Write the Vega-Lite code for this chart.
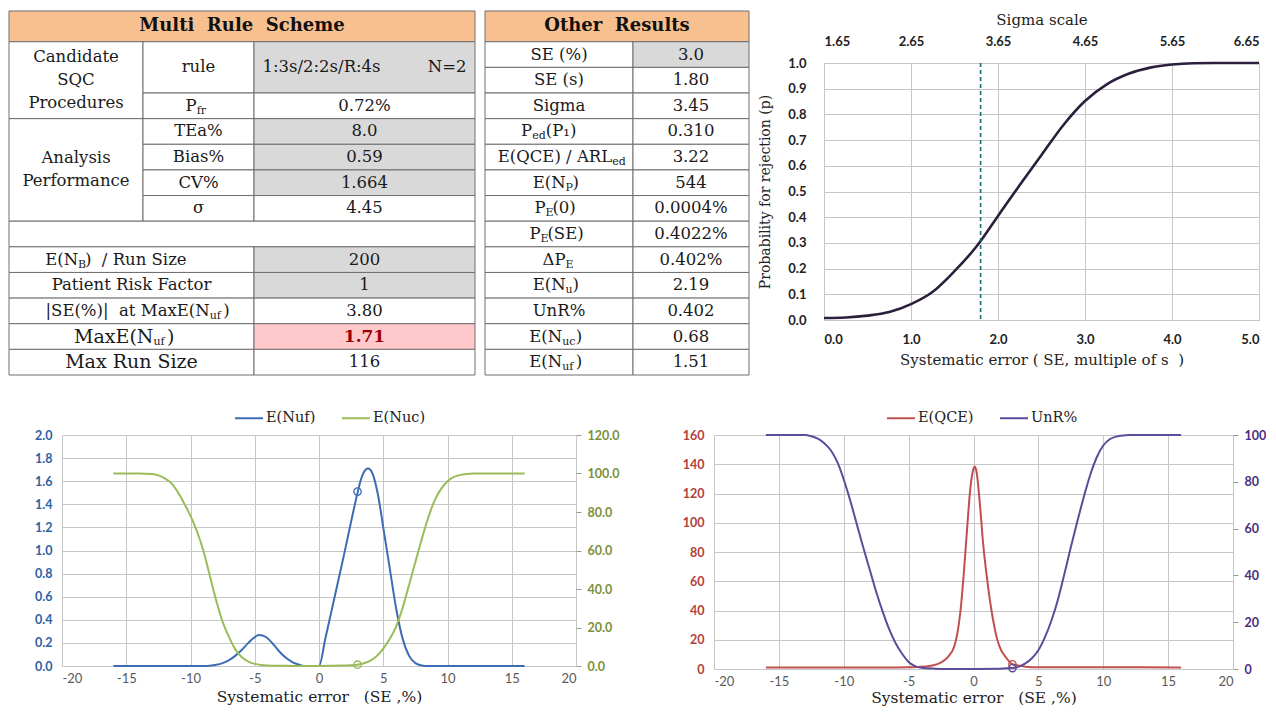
{
  "$schema": "https://vega.github.io/schema/vega-lite/v6.json",
  "padding": {"left": 8, "top": 10, "right": 0, "bottom": 0},
  "background": "white",
  "config": {"view": {"stroke": null}, "font": "DejaVu Serif", "axis": {"titleFontWeight": "normal", "labelOverlap": false}},
  "datasets": {
    "t1": [
      {"c0": 0, "c1": 466, "r0": 0, "r1": 1.2, "role": "head", "txt": "Multi\u00a0\u00a0Rule\u00a0\u00a0Scheme"},
      {"c0": 0, "c1": 134, "r0": 1.2, "r1": 4.2, "role": "label", "txt": ["Candidate", "SQC", "Procedures"]},
      {"c0": 134, "c1": 245, "r0": 1.2, "r1": 3.2, "role": "label", "txt": "rule"},
      {"c0": 245, "c1": 466, "r0": 1.2, "r1": 3.2, "role": "rule", "txt": "1:3s/2:2s/R:4s\u00a0\u00a0\u00a0\u00a0\u00a0\u00a0\u00a0\u00a0\u00a0N=2"},
      {"c0": 134, "c1": 245, "r0": 3.2, "r1": 4.2, "role": "label", "txt": "P", "sub": "fr"},
      {"c0": 245, "c1": 466, "r0": 3.2, "r1": 4.2, "role": "value", "txt": "0.72%"},
      {"c0": 0, "c1": 134, "r0": 4.2, "r1": 8.2, "role": "label", "txt": ["Analysis", "Performance"]},
      {"c0": 134, "c1": 245, "r0": 4.2, "r1": 5.2, "role": "label", "txt": "TEa%"},
      {"c0": 245, "c1": 466, "r0": 4.2, "r1": 5.2, "role": "input", "txt": "8.0"},
      {"c0": 134, "c1": 245, "r0": 5.2, "r1": 6.2, "role": "label", "txt": "Bias%"},
      {"c0": 245, "c1": 466, "r0": 5.2, "r1": 6.2, "role": "input", "txt": "0.59"},
      {"c0": 134, "c1": 245, "r0": 6.2, "r1": 7.2, "role": "label", "txt": "CV%"},
      {"c0": 245, "c1": 466, "r0": 6.2, "r1": 7.2, "role": "input", "txt": "1.664"},
      {"c0": 134, "c1": 245, "r0": 7.2, "r1": 8.2, "role": "label", "txt": "σ"},
      {"c0": 245, "c1": 466, "r0": 7.2, "r1": 8.2, "role": "value", "txt": "4.45"},
      {"c0": 0, "c1": 466, "r0": 8.2, "r1": 9.2, "role": "blank", "txt": ""},
      {"c0": 0, "c1": 245, "r0": 9.2, "r1": 10.2, "role": "label", "txt": "E(N", "sub": "B", "tail": ")\u00a0 / Run Size"},
      {"c0": 245, "c1": 466, "r0": 9.2, "r1": 10.2, "role": "input", "txt": "200"},
      {"c0": 0, "c1": 245, "r0": 10.2, "r1": 11.2, "role": "label", "txt": "Patient Risk Factor"},
      {"c0": 245, "c1": 466, "r0": 10.2, "r1": 11.2, "role": "input", "txt": "1"},
      {"c0": 0, "c1": 245, "r0": 11.2, "r1": 12.2, "role": "label", "txt": "|SE(%)|\u00a0 at MaxE(N", "sub": "uf", "tail": ")"},
      {"c0": 245, "c1": 466, "r0": 11.2, "r1": 12.2, "role": "value", "txt": "3.80"},
      {"c0": 0, "c1": 245, "r0": 12.2, "r1": 13.2, "role": "emph", "txt": "MaxE(N", "sub": "uf", "tail": ")"},
      {"c0": 245, "c1": 466, "r0": 12.2, "r1": 13.2, "role": "alert", "txt": "1.71"},
      {"c0": 0, "c1": 245, "r0": 13.2, "r1": 14.2, "role": "emph", "txt": "Max Run Size"},
      {"c0": 245, "c1": 466, "r0": 13.2, "r1": 14.2, "role": "value", "txt": "116"}
    ],
    "t2": [
      {"c0": 0, "c1": 264, "r0": 0, "r1": 1.2, "role": "head", "txt": "Other\u00a0\u00a0Results"},
      {"c0": 0, "c1": 148, "r0": 1.2, "r1": 2.2, "role": "label", "txt": "SE (%)"},
      {"c0": 148, "c1": 264, "r0": 1.2, "r1": 2.2, "role": "input", "txt": "3.0"},
      {"c0": 0, "c1": 148, "r0": 2.2, "r1": 3.2, "role": "label", "txt": "SE (s)"},
      {"c0": 148, "c1": 264, "r0": 2.2, "r1": 3.2, "role": "value", "txt": "1.80"},
      {"c0": 0, "c1": 148, "r0": 3.2, "r1": 4.2, "role": "label", "txt": "Sigma"},
      {"c0": 148, "c1": 264, "r0": 3.2, "r1": 4.2, "role": "value", "txt": "3.45"},
      {"c0": 0, "c1": 148, "r0": 4.2, "r1": 5.2, "role": "label", "txt": "P", "sub": "ed", "tail": "\u00a0(P₁)"},
      {"c0": 148, "c1": 264, "r0": 4.2, "r1": 5.2, "role": "value", "txt": "0.310"},
      {"c0": 0, "c1": 148, "r0": 5.2, "r1": 6.2, "role": "label", "txt": "E(QCE) / ARL", "sub": "ed"},
      {"c0": 148, "c1": 264, "r0": 5.2, "r1": 6.2, "role": "value", "txt": "3.22"},
      {"c0": 0, "c1": 148, "r0": 6.2, "r1": 7.2, "role": "label", "txt": "E(N", "sub": "P", "tail": ")"},
      {"c0": 148, "c1": 264, "r0": 6.2, "r1": 7.2, "role": "value", "txt": "544"},
      {"c0": 0, "c1": 148, "r0": 7.2, "r1": 8.2, "role": "label", "txt": "P", "sub": "E", "tail": "(0)"},
      {"c0": 148, "c1": 264, "r0": 7.2, "r1": 8.2, "role": "value", "txt": "0.0004%"},
      {"c0": 0, "c1": 148, "r0": 8.2, "r1": 9.2, "role": "label", "txt": "P", "sub": "E", "tail": "(SE)"},
      {"c0": 148, "c1": 264, "r0": 8.2, "r1": 9.2, "role": "value", "txt": "0.4022%"},
      {"c0": 0, "c1": 148, "r0": 9.2, "r1": 10.2, "role": "label", "txt": "ΔP", "sub": "E"},
      {"c0": 148, "c1": 264, "r0": 9.2, "r1": 10.2, "role": "value", "txt": "0.402%"},
      {"c0": 0, "c1": 148, "r0": 10.2, "r1": 11.2, "role": "label", "txt": "E(N", "sub": "u", "tail": ")"},
      {"c0": 148, "c1": 264, "r0": 10.2, "r1": 11.2, "role": "value", "txt": "2.19"},
      {"c0": 0, "c1": 148, "r0": 11.2, "r1": 12.2, "role": "label", "txt": "UnR%"},
      {"c0": 148, "c1": 264, "r0": 11.2, "r1": 12.2, "role": "value", "txt": "0.402"},
      {"c0": 0, "c1": 148, "r0": 12.2, "r1": 13.2, "role": "label", "txt": "E(N", "sub": "uc", "tail": ")"},
      {"c0": 148, "c1": 264, "r0": 12.2, "r1": 13.2, "role": "value", "txt": "0.68"},
      {"c0": 0, "c1": 148, "r0": 13.2, "r1": 14.2, "role": "label", "txt": "E(N", "sub": "uf", "tail": ")"},
      {"c0": 148, "c1": 264, "r0": 13.2, "r1": 14.2, "role": "value", "txt": "1.51"}
    ],
    "pc": [
      {"se": 0, "p": 0.008}, {"se": 0.25, "p": 0.01}, {"se": 0.5, "p": 0.017}, {"se": 0.75, "p": 0.031},
      {"se": 1.0, "p": 0.062}, {"se": 1.25, "p": 0.11}, {"se": 1.5, "p": 0.19}, {"se": 1.75, "p": 0.285},
      {"se": 2.0, "p": 0.405}, {"se": 2.25, "p": 0.525}, {"se": 2.5, "p": 0.642}, {"se": 2.75, "p": 0.758},
      {"se": 3.0, "p": 0.852}, {"se": 3.25, "p": 0.917}, {"se": 3.5, "p": 0.958}, {"se": 3.75, "p": 0.982},
      {"se": 4.0, "p": 0.994}, {"se": 4.25, "p": 0.999}, {"se": 4.5, "p": 1.0}, {"se": 5.0, "p": 1.0}
    ],
    "sem": [{"se": 1.8}],
    "c4": [
      {"se": -16, "series": "E(Nuf)", "v": 0}, {"se": -12, "series": "E(Nuf)", "v": 0}, {"se": -9, "series": "E(Nuf)", "v": 0},
      {"se": -8.5, "series": "E(Nuf)", "v": 0.003}, {"se": -8, "series": "E(Nuf)", "v": 0.01}, {"se": -7.5, "series": "E(Nuf)", "v": 0.025},
      {"se": -7, "series": "E(Nuf)", "v": 0.05}, {"se": -6.5, "series": "E(Nuf)", "v": 0.09}, {"se": -6, "series": "E(Nuf)", "v": 0.14},
      {"se": -5.5, "series": "E(Nuf)", "v": 0.2}, {"se": -5, "series": "E(Nuf)", "v": 0.25}, {"se": -4.7, "series": "E(Nuf)", "v": 0.268},
      {"se": -4.4, "series": "E(Nuf)", "v": 0.265}, {"se": -4, "series": "E(Nuf)", "v": 0.24}, {"se": -3.5, "series": "E(Nuf)", "v": 0.18},
      {"se": -3, "series": "E(Nuf)", "v": 0.115}, {"se": -2.5, "series": "E(Nuf)", "v": 0.065}, {"se": -2, "series": "E(Nuf)", "v": 0.03},
      {"se": -1.5, "series": "E(Nuf)", "v": 0.01}, {"se": -1.2, "series": "E(Nuf)", "v": 0}, {"se": 0, "series": "E(Nuf)", "v": 0},
      {"se": 0.5, "series": "E(Nuf)", "v": 0.24}, {"se": 1, "series": "E(Nuf)", "v": 0.49}, {"se": 1.5, "series": "E(Nuf)", "v": 0.74},
      {"se": 2, "series": "E(Nuf)", "v": 0.99}, {"se": 2.5, "series": "E(Nuf)", "v": 1.25}, {"se": 3, "series": "E(Nuf)", "v": 1.5},
      {"se": 3.25, "series": "E(Nuf)", "v": 1.61}, {"se": 3.5, "series": "E(Nuf)", "v": 1.68}, {"se": 3.8, "series": "E(Nuf)", "v": 1.71},
      {"se": 4, "series": "E(Nuf)", "v": 1.7}, {"se": 4.25, "series": "E(Nuf)", "v": 1.64}, {"se": 4.5, "series": "E(Nuf)", "v": 1.53},
      {"se": 4.75, "series": "E(Nuf)", "v": 1.38}, {"se": 5, "series": "E(Nuf)", "v": 1.2}, {"se": 5.5, "series": "E(Nuf)", "v": 0.85},
      {"se": 6, "series": "E(Nuf)", "v": 0.5}, {"se": 6.5, "series": "E(Nuf)", "v": 0.24}, {"se": 7, "series": "E(Nuf)", "v": 0.09},
      {"se": 7.5, "series": "E(Nuf)", "v": 0.025}, {"se": 8, "series": "E(Nuf)", "v": 0.005}, {"se": 8.5, "series": "E(Nuf)", "v": 0},
      {"se": 12, "series": "E(Nuf)", "v": 0}, {"se": 16, "series": "E(Nuf)", "v": 0},
      {"se": -16, "series": "E(Nuc)", "v": 100}, {"se": -14, "series": "E(Nuc)", "v": 100}, {"se": -13, "series": "E(Nuc)", "v": 99.7},
      {"se": -12.5, "series": "E(Nuc)", "v": 99}, {"se": -12, "series": "E(Nuc)", "v": 97.5}, {"se": -11.5, "series": "E(Nuc)", "v": 95},
      {"se": -11, "series": "E(Nuc)", "v": 90.5}, {"se": -10.5, "series": "E(Nuc)", "v": 84.5}, {"se": -10, "series": "E(Nuc)", "v": 78},
      {"se": -9.5, "series": "E(Nuc)", "v": 70}, {"se": -9, "series": "E(Nuc)", "v": 60}, {"se": -8.5, "series": "E(Nuc)", "v": 47},
      {"se": -8, "series": "E(Nuc)", "v": 34}, {"se": -7.5, "series": "E(Nuc)", "v": 23}, {"se": -7, "series": "E(Nuc)", "v": 15},
      {"se": -6.5, "series": "E(Nuc)", "v": 8.5}, {"se": -6, "series": "E(Nuc)", "v": 4.5}, {"se": -5.5, "series": "E(Nuc)", "v": 2.3},
      {"se": -5, "series": "E(Nuc)", "v": 1.1}, {"se": -4.5, "series": "E(Nuc)", "v": 0.5}, {"se": -4, "series": "E(Nuc)", "v": 0.25},
      {"se": -3, "series": "E(Nuc)", "v": 0.1}, {"se": -2, "series": "E(Nuc)", "v": 0.05}, {"se": 0, "series": "E(Nuc)", "v": 0.05},
      {"se": 2, "series": "E(Nuc)", "v": 0.2}, {"se": 3, "series": "E(Nuc)", "v": 0.68}, {"se": 3.5, "series": "E(Nuc)", "v": 1.4},
      {"se": 4, "series": "E(Nuc)", "v": 2.8}, {"se": 4.5, "series": "E(Nuc)", "v": 5.2}, {"se": 5, "series": "E(Nuc)", "v": 9},
      {"se": 5.5, "series": "E(Nuc)", "v": 14}, {"se": 6, "series": "E(Nuc)", "v": 20.5}, {"se": 6.5, "series": "E(Nuc)", "v": 30},
      {"se": 7, "series": "E(Nuc)", "v": 42}, {"se": 7.5, "series": "E(Nuc)", "v": 54}, {"se": 8, "series": "E(Nuc)", "v": 66},
      {"se": 8.5, "series": "E(Nuc)", "v": 77}, {"se": 9, "series": "E(Nuc)", "v": 86}, {"se": 9.5, "series": "E(Nuc)", "v": 92},
      {"se": 10, "series": "E(Nuc)", "v": 96}, {"se": 10.5, "series": "E(Nuc)", "v": 98.2}, {"se": 11, "series": "E(Nuc)", "v": 99.3},
      {"se": 11.5, "series": "E(Nuc)", "v": 99.8}, {"se": 12, "series": "E(Nuc)", "v": 100}, {"se": 16, "series": "E(Nuc)", "v": 100}
    ],
    "c4m": [{"se": 3, "series": "E(Nuf)", "v": 1.51}, {"se": 3, "series": "E(Nuc)", "v": 0.68}],
    "c5": [
      {"se": -16, "series": "E(QCE)", "v": 1.1}, {"se": -6, "series": "E(QCE)", "v": 1.1}, {"se": -5, "series": "E(QCE)", "v": 1.2},
      {"se": -4, "series": "E(QCE)", "v": 1.5}, {"se": -3, "series": "E(QCE)", "v": 2.7}, {"se": -2.5, "series": "E(QCE)", "v": 4.5},
      {"se": -2, "series": "E(QCE)", "v": 8}, {"se": -1.5, "series": "E(QCE)", "v": 15}, {"se": -1.25, "series": "E(QCE)", "v": 24},
      {"se": -1, "series": "E(QCE)", "v": 40}, {"se": -0.75, "series": "E(QCE)", "v": 65}, {"se": -0.5, "series": "E(QCE)", "v": 95},
      {"se": -0.25, "series": "E(QCE)", "v": 123}, {"se": 0, "series": "E(QCE)", "v": 137}, {"se": 0.1, "series": "E(QCE)", "v": 138.5},
      {"se": 0.25, "series": "E(QCE)", "v": 134}, {"se": 0.5, "series": "E(QCE)", "v": 112}, {"se": 0.75, "series": "E(QCE)", "v": 85},
      {"se": 1, "series": "E(QCE)", "v": 65}, {"se": 1.25, "series": "E(QCE)", "v": 48}, {"se": 1.5, "series": "E(QCE)", "v": 34},
      {"se": 1.75, "series": "E(QCE)", "v": 23}, {"se": 2, "series": "E(QCE)", "v": 15.5}, {"se": 2.5, "series": "E(QCE)", "v": 8},
      {"se": 3, "series": "E(QCE)", "v": 3.22}, {"se": 3.5, "series": "E(QCE)", "v": 2.3}, {"se": 4, "series": "E(QCE)", "v": 1.6},
      {"se": 5, "series": "E(QCE)", "v": 1.2}, {"se": 16, "series": "E(QCE)", "v": 1.1},
      {"se": -16, "series": "UnR%", "v": 100}, {"se": -13, "series": "UnR%", "v": 100}, {"se": -12.5, "series": "UnR%", "v": 99.5},
      {"se": -12, "series": "UnR%", "v": 98.5}, {"se": -11.5, "series": "UnR%", "v": 96.5}, {"se": -11, "series": "UnR%", "v": 93.5},
      {"se": -10.5, "series": "UnR%", "v": 88.5}, {"se": -10, "series": "UnR%", "v": 81}, {"se": -9.5, "series": "UnR%", "v": 72},
      {"se": -9, "series": "UnR%", "v": 62}, {"se": -8.5, "series": "UnR%", "v": 52}, {"se": -8, "series": "UnR%", "v": 42.5},
      {"se": -7.5, "series": "UnR%", "v": 33}, {"se": -7, "series": "UnR%", "v": 24.5}, {"se": -6.5, "series": "UnR%", "v": 17},
      {"se": -6, "series": "UnR%", "v": 11}, {"se": -5.5, "series": "UnR%", "v": 6.5}, {"se": -5, "series": "UnR%", "v": 3},
      {"se": -4.5, "series": "UnR%", "v": 1.2}, {"se": -4, "series": "UnR%", "v": 0.5}, {"se": -3, "series": "UnR%", "v": 0.15},
      {"se": -2, "series": "UnR%", "v": 0.05}, {"se": 0, "series": "UnR%", "v": 0.05}, {"se": 2, "series": "UnR%", "v": 0.15},
      {"se": 3, "series": "UnR%", "v": 0.402}, {"se": 3.5, "series": "UnR%", "v": 1}, {"se": 4, "series": "UnR%", "v": 2.4},
      {"se": 4.5, "series": "UnR%", "v": 4.6}, {"se": 5, "series": "UnR%", "v": 8}, {"se": 5.5, "series": "UnR%", "v": 13.5},
      {"se": 6, "series": "UnR%", "v": 20.6}, {"se": 6.5, "series": "UnR%", "v": 29.5}, {"se": 7, "series": "UnR%", "v": 40.5},
      {"se": 7.5, "series": "UnR%", "v": 52}, {"se": 8, "series": "UnR%", "v": 63}, {"se": 8.5, "series": "UnR%", "v": 73.5},
      {"se": 9, "series": "UnR%", "v": 83}, {"se": 9.5, "series": "UnR%", "v": 90.5}, {"se": 10, "series": "UnR%", "v": 95.5},
      {"se": 10.5, "series": "UnR%", "v": 98.2}, {"se": 11, "series": "UnR%", "v": 99.3}, {"se": 11.5, "series": "UnR%", "v": 99.8},
      {"se": 12, "series": "UnR%", "v": 100}, {"se": 16, "series": "UnR%", "v": 100}
    ],
    "c5m": [{"se": 3, "series": "E(QCE)", "v": 3.22}, {"se": 3, "series": "UnR%", "v": 0.402}]
  },
  "columns": 1,
  "align": "none",
  "spacing": 27,
  "resolve": {"scale": {"color": "independent"}},
  "concat": [
    {
      "columns": 3,
      "align": "none",
      "spacing": 8,
      "resolve": {"scale": {"color": "independent"}},
      "concat": [
        {
          "width": 413, "height": 312,
          "data": {"name": "t1"},
          "transform": [
            {"calculate": "(datum.c0 + datum.c1) / 2", "as": "cx"},
            {"calculate": "(datum.r0 + datum.r1) / 2", "as": "cy"},
            {"calculate": "isArray(datum.txt) ? datum.cy - (length(datum.txt) - 1) * 0.449 : datum.cy", "as": "ty"},
            {"calculate": "datum.role === 'emph' ? 11.5 : 10", "as": "cw"},
            {"calculate": "datum.sub ? length(datum.sub) * 6.8 : 0", "as": "sw"},
            {"calculate": "datum.cx + ((datum.sub ? length(datum.txt) : 0) * datum.cw - (datum.tail ? length(datum.tail) : 0) * datum.cw - datum.sw) / 2", "as": "ax"},
            {"calculate": "datum.ax + datum.sw", "as": "px"}
          ],
          "encoding": {
            "x": {"field": "cx", "type": "quantitative", "scale": {"domain": [53, 466], "nice": false, "zero": false}, "axis": null},
            "y": {"field": "ty", "type": "quantitative", "scale": {"domain": [2.029, 14.2], "nice": false, "zero": false, "reverse": true}, "axis": null}
          },
          "layer": [
            {"mark": {"type": "rect", "stroke": "#6e6e6e", "strokeWidth": 1},
             "encoding": {"x": {"field": "c0", "type": "quantitative"}, "x2": {"field": "c1"}, "y": {"field": "r0", "type": "quantitative"}, "y2": {"field": "r1"},
               "color": {"field": "role", "type": "nominal", "scale": {"domain": ["head", "label", "input", "value", "emph", "alert", "rule", "blank"], "range": ["#f9c08f", "#ffffff", "#d9d9d9", "#ffffff", "#ffffff", "#ffc9cc", "#d9d9d9", "#ffffff"]}, "legend": null}}},
            {"transform": [{"filter": "!datum.sub && indexof(['label','input','value','rule'], datum.role) >= 0"}],
             "mark": {"type": "text", "fontSize": 16.5, "baseline": "middle", "lineHeight": 23, "color": "#1a1a1a", "font": "DejaVu Serif"},
             "encoding": {"text": {"field": "txt", "type": "nominal"}}},
            {"transform": [{"filter": "!datum.sub && datum.role === 'emph'"}],
             "mark": {"type": "text", "fontSize": 19, "baseline": "middle", "color": "#1a1a1a", "font": "DejaVu Serif"},
             "encoding": {"text": {"field": "txt", "type": "nominal"}}},
            {"transform": [{"filter": "datum.role === 'head'"}],
             "mark": {"type": "text", "fontSize": 18, "fontWeight": "bold", "baseline": "middle", "color": "#111111", "font": "DejaVu Serif"},
             "encoding": {"text": {"field": "txt", "type": "nominal"}}},
            {"transform": [{"filter": "datum.role === 'alert'"}],
             "mark": {"type": "text", "fontSize": 17, "fontWeight": "bold", "baseline": "middle", "color": "#9c0006", "font": "DejaVu Serif"},
             "encoding": {"text": {"field": "txt", "type": "nominal"}}},
            {"transform": [{"filter": "datum.sub && datum.role !== 'emph'"}],
             "mark": {"type": "text", "fontSize": 16.5, "baseline": "middle", "align": "right", "color": "#1a1a1a", "font": "DejaVu Serif"},
             "encoding": {"x": {"field": "ax", "type": "quantitative"}, "text": {"field": "txt", "type": "nominal"}}},
            {"transform": [{"filter": "datum.sub && datum.role === 'emph'"}],
             "mark": {"type": "text", "fontSize": 19, "baseline": "middle", "align": "right", "color": "#1a1a1a", "font": "DejaVu Serif"},
             "encoding": {"x": {"field": "ax", "type": "quantitative"}, "text": {"field": "txt", "type": "nominal"}}},
            {"transform": [{"filter": "datum.sub"}],
             "mark": {"type": "text", "fontSize": 11, "baseline": "middle", "align": "left", "dy": 5, "color": "#1a1a1a", "font": "DejaVu Serif"},
             "encoding": {"x": {"field": "ax", "type": "quantitative"}, "text": {"field": "sub", "type": "nominal"}}},
            {"transform": [{"filter": "datum.sub && datum.tail && datum.role !== 'emph'"}],
             "mark": {"type": "text", "fontSize": 16.5, "baseline": "middle", "align": "left", "color": "#1a1a1a", "font": "DejaVu Serif"},
             "encoding": {"x": {"field": "px", "type": "quantitative"}, "text": {"field": "tail", "type": "nominal"}}},
            {"transform": [{"filter": "datum.sub && datum.tail && datum.role === 'emph'"}],
             "mark": {"type": "text", "fontSize": 19, "baseline": "middle", "align": "left", "color": "#1a1a1a", "font": "DejaVu Serif"},
             "encoding": {"x": {"field": "px", "type": "quantitative"}, "text": {"field": "tail", "type": "nominal"}}}
          ]
        },
        {
          "width": 264, "height": 312,
          "data": {"name": "t2"},
          "transform": [
            {"calculate": "(datum.c0 + datum.c1) / 2", "as": "cx"},
            {"calculate": "(datum.r0 + datum.r1) / 2", "as": "cy"},
            {"calculate": "10", "as": "cw"},
            {"calculate": "datum.sub ? length(datum.sub) * 6.8 : 0", "as": "sw"},
            {"calculate": "datum.cx + ((datum.sub ? length(datum.txt) : 0) * datum.cw - (datum.tail ? length(datum.tail) : 0) * datum.cw - datum.sw) / 2", "as": "ax"},
            {"calculate": "datum.ax + datum.sw", "as": "px"}
          ],
          "encoding": {
            "x": {"field": "cx", "type": "quantitative", "scale": {"domain": [0, 264], "nice": false, "zero": false}, "axis": null},
            "y": {"field": "cy", "type": "quantitative", "scale": {"domain": [2.029, 14.2], "nice": false, "zero": false, "reverse": true}, "axis": null}
          },
          "layer": [
            {"mark": {"type": "rect", "stroke": "#6e6e6e", "strokeWidth": 1},
             "encoding": {"x": {"field": "c0", "type": "quantitative"}, "x2": {"field": "c1"}, "y": {"field": "r0", "type": "quantitative"}, "y2": {"field": "r1"},
               "color": {"field": "role", "type": "nominal", "scale": {"domain": ["head", "label", "input", "value"], "range": ["#f9c08f", "#ffffff", "#d9d9d9", "#ffffff"]}, "legend": null}}},
            {"transform": [{"filter": "!datum.sub && datum.role !== 'head'"}],
             "mark": {"type": "text", "fontSize": 16.5, "baseline": "middle", "color": "#1a1a1a", "font": "DejaVu Serif"},
             "encoding": {"text": {"field": "txt", "type": "nominal"}}},
            {"transform": [{"filter": "datum.role === 'head'"}],
             "mark": {"type": "text", "fontSize": 18, "fontWeight": "bold", "baseline": "middle", "color": "#111111", "font": "DejaVu Serif"},
             "encoding": {"text": {"field": "txt", "type": "nominal"}}},
            {"transform": [{"filter": "datum.sub"}],
             "mark": {"type": "text", "fontSize": 16.5, "baseline": "middle", "align": "right", "color": "#1a1a1a", "font": "DejaVu Serif"},
             "encoding": {"x": {"field": "ax", "type": "quantitative"}, "text": {"field": "txt", "type": "nominal"}}},
            {"transform": [{"filter": "datum.sub"}],
             "mark": {"type": "text", "fontSize": 11, "baseline": "middle", "align": "left", "dy": 5, "color": "#1a1a1a", "font": "DejaVu Serif"},
             "encoding": {"x": {"field": "ax", "type": "quantitative"}, "text": {"field": "sub", "type": "nominal"}}},
            {"transform": [{"filter": "datum.sub && datum.tail"}],
             "mark": {"type": "text", "fontSize": 16.5, "baseline": "middle", "align": "left", "color": "#1a1a1a", "font": "DejaVu Serif"},
             "encoding": {"x": {"field": "px", "type": "quantitative"}, "text": {"field": "tail", "type": "nominal"}}}
          ]
        },
        {
          "width": 435, "height": 257,
          "view": {"stroke": "#9a9a9a"},
          "layer": [
            {"data": {"name": "pc"},
             "mark": {"type": "line", "color": "#2b1f3c", "strokeWidth": 2.6, "interpolate": "monotone"},
             "encoding": {
               "x": {"field": "se", "type": "quantitative", "scale": {"domain": [0, 5], "nice": false, "zero": false},
                 "axis": {"values": [0, 1, 2, 3, 4, 5], "tickCount": 6, "format": ".1f", "grid": true, "gridColor": "#c6c6c6", "domain": false, "ticks": false,
                   "labelFont": "Lato", "labelFontWeight": "bold", "labelFontSize": 13, "labelColor": "#222222", "labelPadding": 13,
                   "title": "Systematic error ( SE, multiple of s\u00a0\u00a0)", "titleFont": "DejaVu Serif", "titleFontSize": 15, "titleColor": "#222222", "titlePadding": 6}},
               "y": {"field": "p", "type": "quantitative", "scale": {"domain": [0, 1], "nice": false},
                 "axis": {"values": [0, 0.1, 0.2, 0.3, 0.4, 0.5, 0.6, 0.7, 0.8, 0.9, 1.0], "tickCount": 11, "format": ".1f", "grid": true, "gridColor": "#c6c6c6", "domain": false, "ticks": false,
                   "labelFont": "Lato", "labelFontWeight": "bold", "labelFontSize": 13, "labelColor": "#222222", "labelPadding": 18,
                   "title": "Probability for rejection (p)", "titleFont": "DejaVu Serif", "titleFontSize": 14, "titleColor": "#222222", "titlePadding": 15}}
             }},
            {"data": {"name": "sem"},
             "mark": {"type": "rule", "color": "#1b6a78", "strokeWidth": 1.6, "strokeDash": [4, 3]},
             "encoding": {
               "x": {"field": "se", "type": "quantitative",
                 "axis": {"orient": "top", "values": [0, 1, 2, 3, 4, 5], "tickCount": 6, "labelExpr": "format(datum.value + 1.65, '.2f')", "grid": false, "domain": false, "ticks": false,
                   "labelFont": "Lato", "labelFontWeight": "bold", "labelFontSize": 13, "labelColor": "#222222", "labelPadding": 15,
                   "title": "Sigma scale", "titleFont": "DejaVu Serif", "titleFontSize": 15, "titleColor": "#222222", "titlePadding": 8}}
             }}
          ],
          "resolve": {"axis": {"x": "independent"}}
        }
      ]
    },
    {
      "columns": 2,
      "align": "none",
      "spacing": 48,
      "resolve": {"scale": {"color": "independent"}},
      "concat": [
        {
          "width": 514, "height": 231,
          "layer": [
            {"layer": [
              {"data": {"name": "c4"}, "transform": [{"filter": "datum.series === 'E(Nuf)'"}],
               "mark": {"type": "line", "strokeWidth": 2, "interpolate": "monotone"},
               "encoding": {
                 "x": {"field": "se", "type": "quantitative", "scale": {"domain": [-20, 20], "nice": false, "zero": false},
                   "axis": {"values": [-20, -15, -10, -5, 0, 5, 10, 15, 20], "tickCount": 9, "labelExpr": "'' + datum.value", "grid": true, "gridColor": "#c6c6c6", "domain": false, "ticks": false,
                     "labelFont": "Lato", "labelFontSize": 13, "labelColor": "#5a5a5a", "labelPadding": 6,
                     "title": "Systematic error\u00a0\u00a0\u00a0(SE ,%)", "titleFont": "DejaVu Serif", "titleFontSize": 15.5, "titleColor": "#222222", "titlePadding": 4}},
                 "y": {"field": "v", "type": "quantitative", "scale": {"domain": [0, 2], "nice": false},
                   "axis": {"values": [0, 0.2, 0.4, 0.6, 0.8, 1.0, 1.2, 1.4, 1.6, 1.8, 2.0], "tickCount": 11, "format": ".1f", "grid": true, "gridColor": "#c6c6c6", "domain": false, "ticks": false, "labelOverlap": false,
                     "labelFont": "Lato", "labelFontWeight": "bold", "labelFontSize": 12.5, "labelColor": "#2d5fa5", "labelPadding": 10, "minExtent": 53, "title": null}},
                 "color": {"field": "series", "type": "nominal", "scale": {"domain": ["E(Nuf)", "E(Nuc)"], "range": ["#3d6cb5", "#9bbb59"]},
                   "legend": {"orient": "none", "legendX": 172, "legendY": -32, "direction": "horizontal", "title": null, "symbolType": "stroke", "symbolSize": 784, "symbolStrokeWidth": 2,
                     "labelFont": "DejaVu Serif", "labelFontSize": 14.5, "labelColor": "#222222", "columnPadding": 22, "labelOffset": 2}}
               }},
              {"data": {"name": "c4m"}, "transform": [{"filter": "datum.series === 'E(Nuf)'"}],
               "mark": {"type": "point", "filled": false, "size": 55, "color": "#3d6cb5", "strokeWidth": 1.3, "opacity": 1},
               "encoding": {"x": {"field": "se", "type": "quantitative"}, "y": {"field": "v", "type": "quantitative", "axis": {"tickCount": 11}}}}
            ]},
            {"layer": [
              {"data": {"name": "c4"}, "transform": [{"filter": "datum.series === 'E(Nuc)'"}],
               "mark": {"type": "line", "strokeWidth": 2, "interpolate": "monotone"},
               "encoding": {
                 "x": {"field": "se", "type": "quantitative"},
                 "y": {"field": "v", "type": "quantitative", "scale": {"domain": [0, 120], "nice": false},
                   "axis": {"orient": "right", "values": [0, 20, 40, 60, 80, 100, 120], "tickCount": 7, "format": ".1f", "grid": false, "domain": false, "ticks": true, "tickSize": 5, "tickColor": "#9a9a9a", "labelOverlap": false,
                     "labelFont": "Lato", "labelFontWeight": "bold", "labelFontSize": 12.5, "labelColor": "#7b8f3c", "labelPadding": 6, "minExtent": 50, "title": null}},
                 "color": {"field": "series", "type": "nominal"}
               }},
              {"data": {"name": "c4m"}, "transform": [{"filter": "datum.series === 'E(Nuc)'"}],
               "mark": {"type": "point", "filled": false, "size": 55, "color": "#9bbb59", "strokeWidth": 1.3, "opacity": 1},
               "encoding": {"x": {"field": "se", "type": "quantitative"}, "y": {"field": "v", "type": "quantitative", "axis": {"tickCount": 7}}}}
            ]}
          ],
          "resolve": {"scale": {"y": "independent"}}
        },
        {
          "width": 519, "height": 234,
          "layer": [
            {"layer": [
              {"data": {"name": "c5"}, "transform": [{"filter": "datum.series === 'E(QCE)'"}],
               "mark": {"type": "line", "strokeWidth": 2, "interpolate": "monotone"},
               "encoding": {
                 "x": {"field": "se", "type": "quantitative", "scale": {"domain": [-20, 20], "nice": false, "zero": false},
                   "axis": {"values": [-20, -15, -10, -5, 0, 5, 10, 15, 20], "tickCount": 9, "labelExpr": "'' + datum.value", "grid": true, "gridColor": "#c6c6c6", "domain": false, "ticks": false,
                     "labelFont": "Lato", "labelFontSize": 13, "labelColor": "#5a5a5a", "labelPadding": 6,
                     "title": "Systematic error\u00a0\u00a0\u00a0(SE ,%)", "titleFont": "DejaVu Serif", "titleFontSize": 15.5, "titleColor": "#222222", "titlePadding": 2}},
                 "y": {"field": "v", "type": "quantitative", "scale": {"domain": [0, 160], "nice": false},
                   "axis": {"values": [0, 20, 40, 60, 80, 100, 120, 140, 160], "tickCount": 9, "format": "d", "grid": true, "gridColor": "#c6c6c6", "domain": false, "ticks": false, "labelOverlap": false,
                     "labelFont": "Lato", "labelFontWeight": "bold", "labelFontSize": 12.5, "labelColor": "#b2403b", "labelPadding": 10, "minExtent": 40, "title": null}},
                 "color": {"field": "series", "type": "nominal", "scale": {"domain": ["E(QCE)", "UnR%"], "range": ["#c0504d", "#5e4b9a"]},
                   "legend": {"orient": "none", "legendX": 172, "legendY": -32, "direction": "horizontal", "title": null, "symbolType": "stroke", "symbolSize": 784, "symbolStrokeWidth": 2,
                     "labelFont": "DejaVu Serif", "labelFontSize": 14.5, "labelColor": "#222222", "columnPadding": 22, "labelOffset": 2}}
               }},
              {"data": {"name": "c5m"}, "transform": [{"filter": "datum.series === 'E(QCE)'"}],
               "mark": {"type": "point", "filled": false, "size": 55, "color": "#c0504d", "strokeWidth": 1.3, "opacity": 1},
               "encoding": {"x": {"field": "se", "type": "quantitative"}, "y": {"field": "v", "type": "quantitative", "axis": {"tickCount": 9}}}}
            ]},
            {"layer": [
              {"data": {"name": "c5"}, "transform": [{"filter": "datum.series === 'UnR%'"}],
               "mark": {"type": "line", "strokeWidth": 2, "interpolate": "monotone"},
               "encoding": {
                 "x": {"field": "se", "type": "quantitative"},
                 "y": {"field": "v", "type": "quantitative", "scale": {"domain": [0, 100], "nice": false},
                   "axis": {"orient": "right", "values": [0, 20, 40, 60, 80, 100], "tickCount": 6, "format": "d", "grid": false, "domain": false, "ticks": true, "tickSize": 5, "tickColor": "#9a9a9a", "labelOverlap": false,
                     "labelFont": "Lato", "labelFontWeight": "bold", "labelFontSize": 12.5, "labelColor": "#4b2d80", "labelPadding": 6, "title": null}},
                 "color": {"field": "series", "type": "nominal"}
               }},
              {"data": {"name": "c5m"}, "transform": [{"filter": "datum.series === 'UnR%'"}],
               "mark": {"type": "point", "filled": false, "size": 55, "color": "#5e4b9a", "strokeWidth": 1.3, "opacity": 1},
               "encoding": {"x": {"field": "se", "type": "quantitative"}, "y": {"field": "v", "type": "quantitative", "axis": {"tickCount": 6}}}}
            ]}
          ],
          "resolve": {"scale": {"y": "independent"}}
        }
      ]
    }
  ]
}
